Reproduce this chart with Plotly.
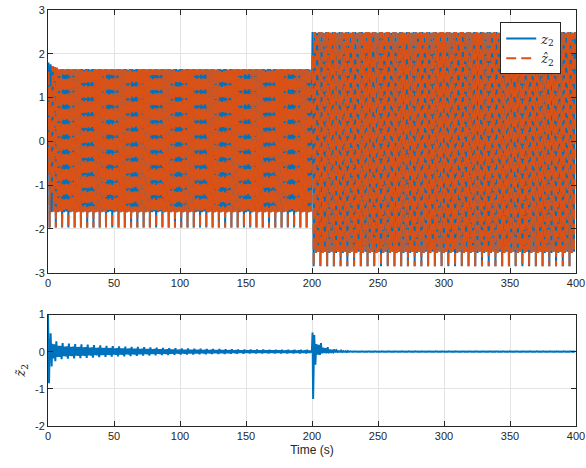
import numpy as np
import plotly.graph_objects as go

# ---------------- data ----------------
seg_start = [0.0, 200.0]
seg_end = [200.0, 400.0]
spike_period = [4.75, 5.1]                      # s, spacing of the deep troughs of z2
peak_pattern = [[1.65, 1.65, 1.64], [2.50, 2.50, 2.48]]
trough_pattern = [[-1.97, -1.62, -1.60], [-2.85, -2.55, -2.52]]
early_peaks = [1.80, 1.76, 1.72, 1.70, 1.68]    # first z2 peaks after t = 0
z2_start = 0.3

err_env_t = [0, 3, 5, 10, 20, 50, 100, 150, 199.9, 200.0, 203, 206, 210, 215, 222, 232, 400]
err_env_hi = [0.5, 0.36, 0.3, 0.24, 0.21, 0.15, 0.09, 0.06, 0.05, 0.5, 0.36, 0.25, 0.15, 0.08, 0.03, 0.01, 0.01]
err_env_lo = [-0.4, -0.3, -0.26, -0.2, -0.18, -0.13, -0.08, -0.05, -0.05, -0.35, -0.15, -0.08, -0.04, -0.02, -0.01, -0.01, -0.01]
err_pattern_scale = [1.0, 0.6, 0.65]
err_start = [1.0, 0.2, -0.85, 0.0, 0.0, 0.5, 0.0, -0.4]   # first error values from t = 0
err_jump = [0.52, -1.27, 0.0, 0.45, 0.0, -0.35]           # first error values after t = 200

x_ticks = [0, 50, 100, 150, 200, 250, 300, 350, 400]
y1_ticks = [-3, -2, -1, 0, 1, 2, 3]
y2_ticks = [-2, -1, 0, 1]

# ---------------- build vertex sequences ----------------
ext_t, ext_z, ext_m = [], [], []
for s in range(2):
    n_in = len(peak_pattern[s])
    T_in = spike_period[s] / n_in
    k = 0
    npk = 0
    while True:
        ts = seg_start[s] + k * spike_period[s]
        if ts >= seg_end[s]:
            break
        for m in range(n_in):
            for half, lev in ((0.25, peak_pattern[s][m]), (0.75, trough_pattern[s][m])):
                tt = ts + (m + half) * T_in
                if tt > seg_end[s]:
                    continue
                if s == 0 and half == 0.25 and npk < len(early_peaks):
                    lev = early_peaks[npk]
                if half == 0.25:
                    npk += 1
                ext_t.append(tt)
                ext_z.append(lev)
                ext_m.append(m)
        k += 1

# vertices: start point, then extrema with crossing points between them
t_v, z_v, e_v, is_ext = [0.0], [z2_start], [0.0], [False]
for i in range(len(ext_t)):
    if i > 0:
        tc = 0.5 * (ext_t[i - 1] + ext_t[i])
        zc = 0.5 * (ext_z[i - 1] + ext_z[i])
        scale = err_pattern_scale[ext_m[i - 1]]
        if ext_z[i] > ext_z[i - 1]:
            ec = np.interp(tc, err_env_t, err_env_hi) * scale
        else:
            ec = np.interp(tc, err_env_t, err_env_lo) * scale
        t_v.append(tc); z_v.append(zc); e_v.append(ec); is_ext.append(False)
    t_v.append(ext_t[i]); z_v.append(ext_z[i]); e_v.append(0.0); is_ext.append(True)

t_v = np.array(t_v)
z_v = np.array(z_v)
e_v = np.array(e_v)
is_ext = np.array(is_ext)
e_v[:len(err_start)] = err_start
j0 = int(np.argmax((t_v >= seg_start[1]) & is_ext))
e_v[j0:j0 + len(err_jump)] = err_jump
zh_v = z_v - e_v

blue = "#0072BD"
orange = "#D95319"
axc = "#262626"
gridc = "#e3e3e3"
font = "Liberation Sans, Arial, Helvetica, sans-serif"


def lab(v):
    return [str(x) for x in v]


fig = go.Figure()
fig.add_trace(go.Scatter(x=t_v, y=z_v, mode="lines", line=dict(color=blue, width=2),
                         name="<i>z</i><sub>2</sub>", xaxis="x", yaxis="y"))
fig.add_trace(go.Scatter(x=t_v, y=zh_v, mode="lines",
                         line=dict(color=orange, width=2, dash="10px,5px"),
                         name="<i>ẑ</i><sub>2</sub>", xaxis="x", yaxis="y"))
fig.add_trace(go.Scatter(x=t_v, y=e_v, mode="lines", line=dict(color=blue, width=2),
                         showlegend=False, xaxis="x2", yaxis="y2"))

ax_common = dict(showline=True, linecolor=axc, linewidth=1, mirror="ticks",
                 ticks="inside", ticklen=5, tickcolor=axc, showgrid=True,
                 gridcolor=gridc, gridwidth=1, zeroline=False, automargin=False,
                 tickfont=dict(family=font, size=11, color=axc))

fig.update_layout(
    width=586, height=468,
    margin=dict(l=48, r=10, t=10, b=42),
    paper_bgcolor="white", plot_bgcolor="white",
    font=dict(family=font, color=axc, size=11),
    xaxis=dict(domain=[0, 1], range=[0, 400], tickvals=x_ticks, ticktext=lab(x_ticks),
               anchor="y", **ax_common),
    yaxis=dict(domain=[0.3685, 1], range=[-3, 3], tickvals=y1_ticks, ticktext=lab(y1_ticks),
               anchor="x", **ax_common),
    xaxis2=dict(domain=[0, 1], range=[0, 400], tickvals=x_ticks, ticktext=lab(x_ticks), anchor="y2",
                title=dict(text="Time (s)", font=dict(family=font, size=12, color=axc), standoff=4),
                **ax_common),
    yaxis2=dict(domain=[0, 0.2678], range=[-2, 1], tickvals=y2_ticks, ticktext=lab(y2_ticks), anchor="x2",
                title=dict(text="<i>z̃</i><sub>2</sub>", font=dict(family="DejaVu Serif", size=13, color=axc),
                           standoff=6),
                **ax_common),
    legend=dict(x=0.972, y=0.97, xanchor="right", yanchor="top",
                bgcolor="white", bordercolor=axc, borderwidth=1,
                font=dict(family="DejaVu Serif", size=13, color=axc),
                itemwidth=30, tracegroupgap=0),
    showlegend=True,
)

fig.write_html("out.html", config={"displayModeBar": False},
               post_script="document.body.style.margin='0px';document.body.style.padding='0px';")
